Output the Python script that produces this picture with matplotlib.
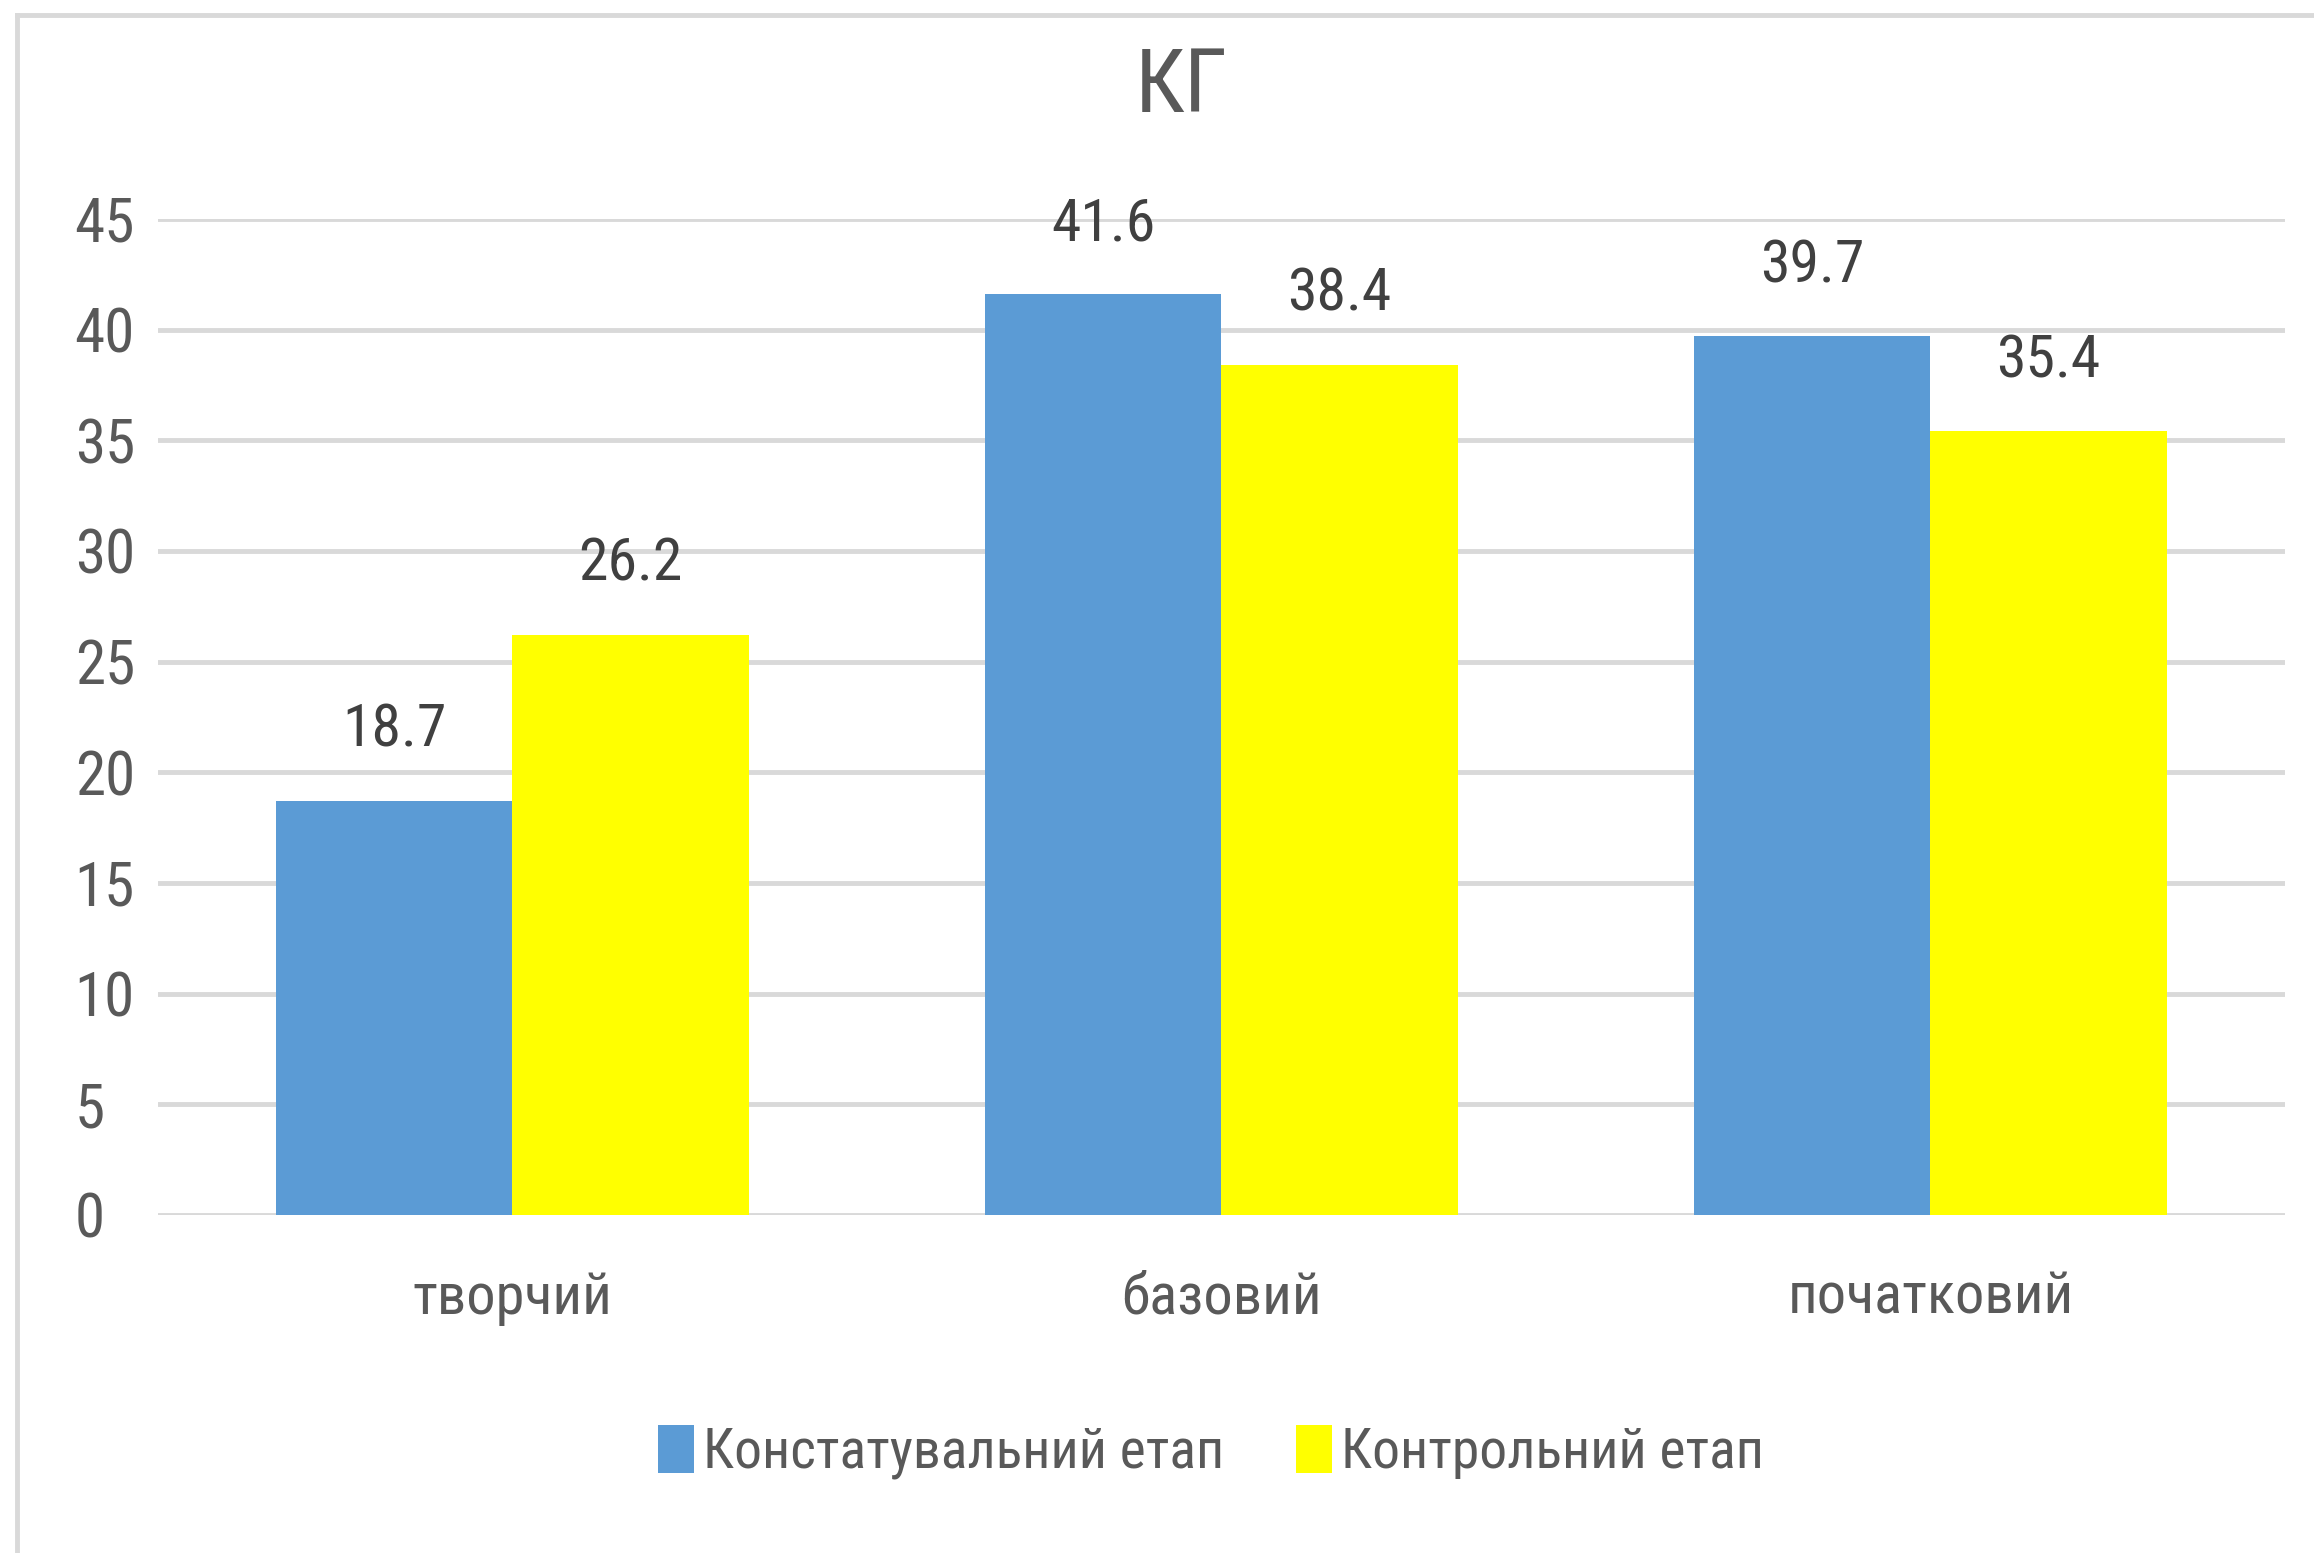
import matplotlib
matplotlib.use("Agg")
import matplotlib.pyplot as plt
from matplotlib import font_manager
from matplotlib.lines import Line2D
import numpy as np

categories = ["творчий", "базовий", "початковий"]
series_names = ["Констатувальний етап", "Контрольний етап"]
konstat = [18.7, 41.6, 39.7]
kontrol = [26.2, 38.4, 35.4]
title = "КГ"
yticks = [0, 5, 10, 15, 20, 25, 30, 35, 40, 45]

available = {f.name for f in font_manager.fontManager.ttflist}
fam = None
for cand in ["Liberation Sans Narrow", "DejaVu Sans Condensed", "Roboto Condensed", "Lato"]:
    if cand in available:
        fam = cand
        break
if fam is None:
    fam = "DejaVu Sans"
plt.rcParams['font.family'] = [fam, 'DejaVu Sans']

W, H = 2314, 1553
fig = plt.figure(figsize=(W / 100, H / 100), dpi=100)
ax = fig.add_axes([158 / W, 1 - 1215 / H, (2285 - 158) / W, (1215 - 219) / H])

x = np.arange(len(categories))
bw = 0.333
blue = "#5B9BD5"
yellow = "#FFFF00"
b1 = ax.bar(x - bw / 2, konstat, bw, color=blue, label=series_names[0], zorder=3)
b2 = ax.bar(x + bw / 2, kontrol, bw, color=yellow, label=series_names[1], zorder=3)

ax.set_xlim(-0.5, len(categories) - 0.5)
ax.set_ylim(0, 45)
ax.set_yticks(yticks)
ax.set_yticklabels([str(v) for v in yticks])
ax.yaxis.grid(True, color="#d9d9d9", linewidth=3.5, zorder=0)
ax.set_axisbelow(True)
for s in ax.spines.values():
    s.set_visible(False)
ax.tick_params(axis='y', length=0, pad=60, labelsize=44, labelcolor="#595959")
for lab in ax.get_yticklabels():
    lab.set_horizontalalignment("left")
ax.set_xticks(x)
ax.set_xticklabels(categories)
ax.tick_params(axis='x', length=0, pad=40, labelsize=42, labelcolor="#595959")

for bars, vals in [(b1, konstat), (b2, kontrol)]:
    for rect, v in zip(bars, vals):
        ax.annotate(f"{v}", (rect.get_x() + rect.get_width() / 2, v),
                    xytext=(0, 39), textcoords="offset points",
                    ha="center", va="baseline", fontsize=43, color="#404040")

fig.text(1181 / W, 1 - 87 / H, title, ha="center", va="center", fontsize=64, color="#595959")

leg = fig.legend(handles=[b1, b2], labels=series_names, loc="center",
                 bbox_to_anchor=(1211 / W, 1 - 1452 / H), ncol=2, frameon=False,
                 fontsize=40, handlelength=0.65, handleheight=0.95,
                 handletextpad=0.15, columnspacing=1.3, labelcolor="#595959")

fig.add_artist(Line2D([17 / W, 1], [1 - 15 / H, 1 - 15 / H], transform=fig.transFigure,
                      color="#d9d9d9", linewidth=3.5))
fig.add_artist(Line2D([17 / W, 17 / W], [0, 1 - 15 / H], transform=fig.transFigure,
                      color="#d9d9d9", linewidth=3.5))

fig.savefig("out.png", dpi=100, facecolor="white")
